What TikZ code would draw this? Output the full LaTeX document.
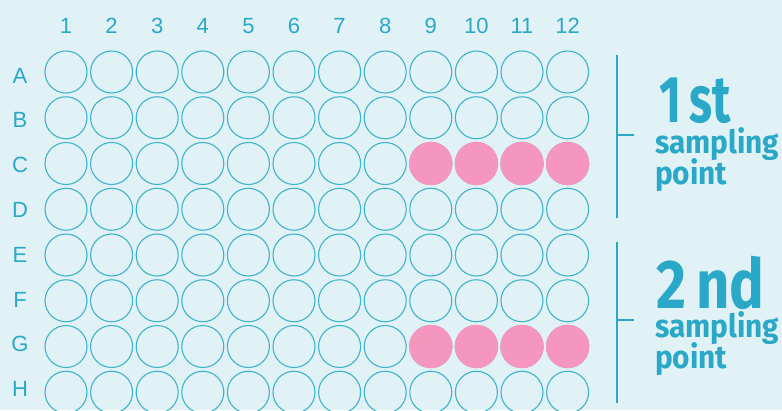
\documentclass[tikz,border=0pt]{standalone}
\usepackage{fontspec}
\setmainfont{Liberation Sans}
\newfontfamily\headfont{Fira Sans}
\definecolor{bg}{HTML}{E0F2F5}
\definecolor{teal}{HTML}{2AA8C8}
\definecolor{ring}{HTML}{3FB2CC}
\definecolor{pink}{HTML}{F596BE}

\begin{document}
\begin{tikzpicture}[x=1pt,y=-1pt,well/.style={circle,draw=ring,line width=1.1pt,minimum size=42pt,inner sep=0pt},hit/.style={circle,fill=pink,minimum size=43.5pt,inner sep=0pt},axis/.style={text=teal,font=\fontsize{22}{24}\selectfont,inner sep=0pt,anchor=base},bracket/.style={draw=teal,line width=2.6pt},big/.style={text=teal,font=\headfont\bfseries\fontsize{66}{66}\selectfont,anchor=base west,inner sep=0pt,text depth=0pt,xscale=.72},small/.style={text=teal,font=\headfont\bfseries\fontsize{32}{32}\selectfont,anchor=base west,inner sep=0pt,xscale=.93}]
 \fill[bg] (0,0) rectangle (782,410);
 \useasboundingbox (0,0) rectangle (782,410);
 % plate
 \foreach \c in {1,...,12}
  \node[axis] (col\c) at ({66+45.6*(\c-1)},33) {\c};
 \foreach \r [count=\i from 0] in {A,B,C,D,E,F,G,H} {
  \node[axis] (row\r) at (20,{83+44.8*\i}) {\r};
  \foreach \c in {1,...,12}
   \node[well] (\r\c) at ({66+45.6*(\c-1)},{72+45.75*\i}) {};
 }
 \foreach \r in {C,G}
  \foreach \c in {9,...,12}
   \node[hit] (hit\r\c) at (\r\c) {};
 % brackets
 \coordinate (top1) at (617,55);
 \coordinate (bot1) at (617,218);
 \coordinate (mid1) at (617,135);
 \coordinate (tip1) at (634,135);
 \draw[bracket] (top1) -- (bot1);
 \draw[bracket] (mid1) -- (tip1);
 \coordinate (top2) at (617,242);
 \coordinate (bot2) at (617,403);
 \coordinate (mid2) at (617,320);
 \coordinate (tip2) at (634,320);
 \draw[bracket] (top2) -- (bot2);
 \draw[bracket] (mid2) -- (tip2);
 % labels
 \node[big] (first) at (659,122) {1\kern12pt st};
 \node[small] (samp1) at (655,153) {sampling};
 \node[small] (point1) at (655,184) {point};
 \node[big,font=\headfont\bfseries\fontsize{69}{69}\selectfont,xscale=.84/.72] (second) at (656,308) {2\kern12pt nd};
 \node[small] (samp2) at (655,337) {sampling};
 \node[small] (point2) at (655,368) {point};
\end{tikzpicture}
\end{document}
